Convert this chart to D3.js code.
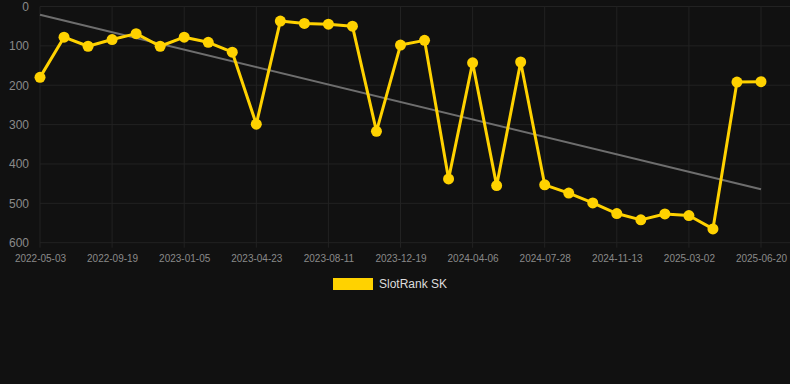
<!DOCTYPE html>
<html>
<head>
<meta charset="utf-8">
<script src="https://cdn.jsdelivr.net/npm/d3@7"></script>
<style>
  html, body { margin: 0; padding: 0; background: #111111; }
  svg { display: block; font-family: "Liberation Sans", Arial, sans-serif; }
</style>
</head>
<body>
<div id="chart"></div>
<script>
const dates = [
  "2022-05-03", "2022-06-19", "2022-08-04", "2022-09-19", "2022-10-25", "2022-11-30",
  "2023-01-05", "2023-02-10", "2023-03-18", "2023-04-23", "2023-05-30", "2023-07-05",
  "2023-08-11", "2023-09-24", "2023-11-06", "2023-12-19", "2024-01-24", "2024-02-29",
  "2024-04-06", "2024-05-13", "2024-06-20", "2024-07-28", "2024-09-02", "2024-10-08",
  "2024-11-13", "2024-12-19", "2025-01-24", "2025-03-02", "2025-04-07", "2025-05-14",
  "2025-06-20"
];
const ranks = [
  180, 78, 101, 84, 69, 101, 78, 91, 116, 299, 37, 43, 45, 50, 317, 98,
  86, 438, 143, 455, 141, 453, 474, 499, 526, 542, 527, 531, 565, 192, 191
];
// trend line end values
const trend = [21, 464];
const yTicks = [0, 100, 200, 300, 400, 500, 600];
const seriesName = "SlotRank SK";

const width = 790;
const height = 384;
const margin = { top: 6.5, right: 29, bottom: 141.3, left: 40 };

const x = d3.scalePoint().domain(dates).range([margin.left, width - margin.right]);
const y = d3.scaleLinear().domain([0, 600]).range([margin.top, height - margin.bottom]);

const svg = d3.select("#chart")
  .append("svg")
  .attr("width", width)
  .attr("height", height);

svg.append("rect").attr("width", width).attr("height", height).attr("fill", "#111111");

const tickDates = dates.filter((d, i) => i % 3 === 0);

// grid
svg.append("g")
  .selectAll("line")
  .data(yTicks)
  .join("line")
  .attr("x1", margin.left)
  .attr("x2", width)
  .attr("y1", (d) => y(d))
  .attr("y2", (d) => y(d))
  .attr("stroke", "#222222")
  .attr("stroke-width", 1);

svg.append("g")
  .selectAll("line")
  .data(tickDates)
  .join("line")
  .attr("x1", (d) => x(d))
  .attr("x2", (d) => x(d))
  .attr("y1", margin.top)
  .attr("y2", y(600) + 5)
  .attr("stroke", "#222222")
  .attr("stroke-width", 1);

// axes
const yAxis = svg.append("g")
  .attr("transform", `translate(${margin.left - 11},0)`)
  .call(d3.axisLeft(y).tickValues(yTicks).tickSize(0).tickPadding(0));
yAxis.select(".domain").remove();
yAxis.selectAll("text").attr("fill", "#8a8a8a").attr("font-size", 12);

const xAxis = svg.append("g")
  .attr("transform", `translate(0,${y(600) + 12})`)
  .call(d3.axisBottom(x).tickValues(tickDates).tickSize(0).tickPadding(0));
xAxis.select(".domain").remove();
xAxis.selectAll("text").attr("fill", "#8a8a8a").attr("font-size", 10).attr("dy", "0.71em");

// trend
svg.append("line")
  .attr("x1", x(dates[0]))
  .attr("x2", x(dates[dates.length - 1]))
  .attr("y1", y(trend[0]))
  .attr("y2", y(trend[1]))
  .attr("stroke", "#6e6e6e")
  .attr("stroke-width", 2);

// series
svg.append("path")
  .datum(ranks)
  .attr("fill", "none")
  .attr("stroke", "#ffd200")
  .attr("stroke-width", 3)
  .attr("stroke-linejoin", "round")
  .attr("d", d3.line().x((d, i) => x(dates[i])).y((d) => y(d)));

svg.append("g")
  .selectAll("circle")
  .data(ranks)
  .join("circle")
  .attr("cx", (d, i) => x(dates[i]))
  .attr("cy", (d) => y(d))
  .attr("r", 5.5)
  .attr("fill", "#ffd200");

// legend
const legend = svg.append("g").attr("transform", "translate(333,278)");
legend.append("rect").attr("width", 40).attr("height", 12).attr("fill", "#ffd200");
legend.append("text")
  .attr("x", 46)
  .attr("y", 6)
  .attr("dy", "0.35em")
  .attr("fill", "#dddddd")
  .attr("font-size", 12)
  .text(seriesName);
</script>
</body>
</html>
